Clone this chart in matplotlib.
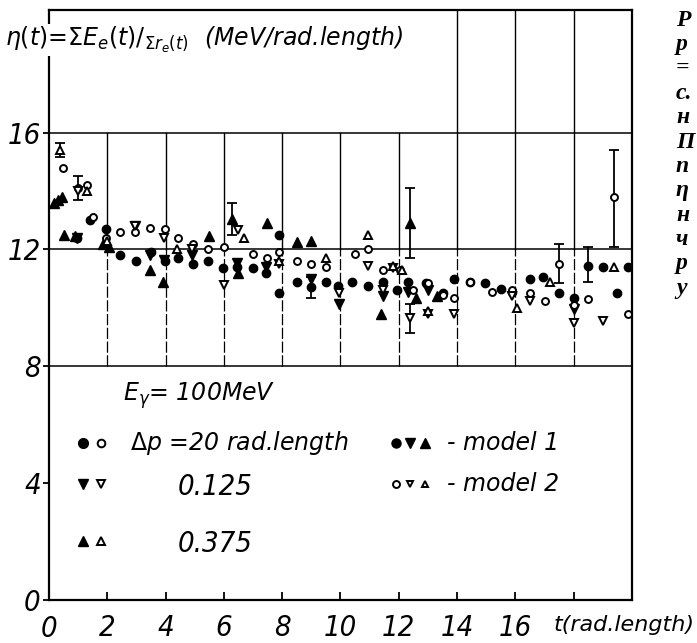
import matplotlib

matplotlib.use("Agg")
import matplotlib.pyplot as plt

# eta(t), MeV per radiation length
# model 1 (filled markers)
fc_t = [0.96, 1.40, 1.96, 2.44, 3.00, 3.50, 3.98, 4.43, 4.94, 5.45, 5.97, 6.45, 7.00, 7.45,
        7.90, 7.90, 8.50, 9.00, 9.50, 9.90, 10.40, 10.95, 11.45, 11.95, 12.30, 12.95, 13.50,
        13.90, 14.45, 14.95, 15.50, 15.90, 16.50, 16.95, 17.50, 18.00, 18.50, 19.00, 19.50, 19.85]
fc_eta = [12.4, 13.0, 12.7, 11.8, 11.6, 11.9, 11.6, 11.7, 11.5, 11.6, 11.35, 11.4, 11.35, 11.2,
          12.5, 10.5, 10.9, 10.7, 10.9, 10.75, 10.9, 10.75, 10.9, 10.6, 10.9, 10.85, 10.5,
          11.0, 10.9, 10.85, 10.65, 10.55, 11.0, 11.05, 10.5, 10.35, 11.45, 11.4, 10.5, 11.4]
fd_t = [0.96, 2.95, 3.45, 3.95, 4.90, 6.45, 7.45, 9.00, 9.95, 11.45, 12.30, 13.00, 18.00]
fd_eta = [12.4, 12.8, 11.8, 11.65, 11.8, 11.55, 11.4, 11.0, 10.15, 10.4, 10.55, 10.6, 9.95]
fu_t = [0.18, 0.30, 0.45, 0.50, 0.90, 1.85, 2.05, 3.45, 3.92, 5.50, 6.28, 6.50, 7.48, 8.50,
        9.00, 11.40, 12.40, 12.60, 13.30]
fu_eta = [13.6, 13.7, 13.8, 12.5, 12.45, 12.2, 12.1, 11.3, 10.9, 12.45, 13.05, 11.2, 12.9, 12.25,
          12.3, 9.8, 12.9, 10.35, 10.4]

# model 2 (open markers)
oc_t = [0.48, 1.00, 1.30, 1.50, 1.96, 2.44, 2.95, 3.47, 3.98, 4.43, 4.94, 5.45, 6.00, 7.00,
        7.48, 7.90, 8.50, 9.00, 9.50, 10.50, 10.95, 11.45, 12.05, 12.50, 13.00, 13.50, 13.90,
        14.45, 15.20, 15.90, 16.50, 17.00, 17.50, 18.00, 18.50, 19.40, 19.85]
oc_eta = [14.8, 14.1, 14.2, 13.1, 12.4, 12.6, 12.6, 12.75, 12.7, 12.4, 12.2, 12.0, 12.1, 11.85,
          11.7, 11.9, 11.6, 11.5, 11.4, 11.85, 12.0, 11.3, 11.3, 10.6, 10.85, 10.45, 10.35,
          10.9, 10.55, 10.6, 10.5, 10.25, 11.5, 10.1, 10.3, 13.8, 9.8]
od_t = [1.00, 2.95, 3.95, 4.90, 6.00, 6.50, 7.90, 9.95, 10.95, 11.45, 11.80, 12.40, 13.00,
        13.90, 15.90, 16.50, 18.00, 19.00]
od_eta = [14.0, 12.8, 12.4, 12.0, 10.8, 12.65, 11.5, 10.5, 11.45, 10.6, 11.35, 9.65, 9.8,
          9.8, 10.4, 10.25, 9.5, 9.55]
ou_t = [0.38, 1.30, 2.00, 4.40, 6.70, 7.90, 9.50, 10.95, 11.80, 12.10, 13.00, 16.05, 17.20, 19.40]
ou_eta = [15.4, 14.0, 12.3, 12.0, 12.4, 11.6, 11.7, 12.5, 11.45, 11.3, 9.9, 10.0, 10.9, 11.4]

# error bars: t, eta, lower, upper
err_t = [0.38, 1.00, 6.28, 9.00, 12.40, 12.40, 17.50, 18.50, 19.40]
err_eta = [15.4, 14.1, 13.05, 10.7, 12.9, 9.65, 11.5, 11.45, 13.8]
err_lo = [0.25, 0.4, 0.55, 0.35, 1.2, 0.5, 0.65, 0.55, 1.7]
err_hi = [0.25, 0.4, 0.55, 0.35, 1.2, 0.5, 0.7, 0.65, 1.6]

x_ticks = [0, 2, 4, 6, 8, 10, 12, 14, 16]
y_ticks = [0, 4, 8, 12, 16]
grid_y = [8, 12, 16]
grid_x_low = [2, 4, 6, 8, 10, 12]
grid_x_high = [14, 16, 18]

TXT = ["DejaVu Sans"]
CYR = ["Liberation Serif", "DejaVu Serif"]
num_font = dict(family=TXT, style="italic", stretch="condensed", size=21)

fig = plt.figure(figsize=(6.97, 6.43), dpi=100)
ax = fig.add_axes([0.0703, 0.0669, 0.8364, 0.9176])
ax.set_xlim(0, 20)
ax.set_ylim(0, 20.2)

# hand-drawn style grid
for y in grid_y:
    ax.axhline(y, color="black", lw=1.1, zorder=1)
for x in grid_x_low + grid_x_high:
    ax.plot([x, x], [8, 12], color="black", lw=0.9, ls=(0, (9, 2)), zorder=1)
for x in grid_x_low:
    ax.plot([x, x], [12, 16], color="black", lw=1.0, zorder=1)
for x in grid_x_high:
    ax.plot([x, x], [12, 20.2], color="black", lw=1.0, zorder=1)

ax.errorbar(err_t, err_eta, yerr=[err_lo, err_hi], fmt="none", ecolor="black",
            elinewidth=1.3, capsize=3.5, capthick=1.3, zorder=2)

filled = dict(color="black", ls="none", zorder=3)
opened = dict(color="black", mfc="white", mew=1.4, ls="none", zorder=4)
ax.plot(fc_t, fc_eta, marker="o", ms=6, **filled)
ax.plot(fd_t, fd_eta, marker="v", ms=6.5, **filled)
ax.plot(fu_t, fu_eta, marker="^", ms=6.5, **filled)
ax.plot(oc_t, oc_eta, marker="o", ms=5, **opened)
ax.plot(od_t, od_eta, marker="v", ms=6, **opened)
ax.plot(ou_t, ou_eta, marker="^", ms=6, **opened)

for s in ax.spines.values():
    s.set_linewidth(1.6)

ax.set_xticks(x_ticks[1:] + [18])
ax.set_xticklabels([str(v) for v in x_ticks[1:]] + [""])
ax.tick_params(axis="x", direction="in", length=6, width=1.3, pad=10)
ax.set_yticks(y_ticks)
ax.set_yticklabels([str(v) for v in y_ticks])
ax.tick_params(axis="y", direction="out", length=4, width=1.3, pad=2)
for lab in ax.get_xticklabels() + ax.get_yticklabels():
    lab.set_fontproperties(num_font)
ax.text(0, -0.5, "0", ha="center", va="top", clip_on=False, fontdict=num_font)
ax.text(17.3, -0.5, "t(rad.length)", ha="left", va="top", fontsize=16, style="italic",
        family=TXT, clip_on=False)

# axis title in the top left corner
fig.text(0.007, 1 - 40 / 643,
         r"$\eta(t)$=$\Sigma E_e(t)/_{\Sigma r_e(t)}$  (MeV/rad.length)",
         ha="left", va="center", fontsize=17, style="italic", family=TXT,
         bbox=dict(facecolor="white", edgecolor="none", pad=1), zorder=5)

# key
ax.text(2.54, 7.0, r"E$_\gamma$= 100MeV", ha="left", va="center", fontsize=17,
        style="italic", family=TXT)
rows = [5.37, 3.97, 2.02]
keys = ["o", "v", "^"]
labels = [r"$\Delta$p =20 rad.length", "0.125", "0.375"]
lab_x = [2.78, 4.43, 4.43]
for r, k, lab, lx in zip(rows, keys, labels, lab_x):
    ax.plot([1.17], [r], marker=k, ms=7, **filled)
    ax.plot([1.78], [r], marker=k, ms=5.5, **opened)
    if lx < 3:
        ax.text(lx, r, lab, ha="left", va="center", fontsize=17, style="italic", family=TXT)
    else:
        ax.text(lx, r - 0.1, lab, ha="left", va="center", fontdict=num_font)
for j, k in enumerate(keys):
    ax.plot([11.9 + 0.5 * j], [rows[0]], marker=k, ms=6.5, **filled)
    ax.plot([11.9 + 0.5 * j], [rows[1]], marker=k, ms=5, **opened)
ax.text(13.65, rows[0], "- model 1", ha="left", va="center", fontsize=17,
        style="italic", family=TXT)
ax.text(13.65, rows[1], "- model 2", ha="left", va="center", fontsize=17,
        style="italic", family=TXT)

# cut-off caption letters on the right edge
cyr = ["Р", "р", "=", "с.", "н", "П", "п", "η", "н", "ч", "р", "у"]
for i, ch in enumerate(cyr):
    fig.text(676 / 697, 1 - (20 + 24.4 * i) / 643, ch, ha="left", va="center",
             fontsize=17, style="italic", weight="bold", family=CYR)

fig.savefig("out.png", dpi=100)
